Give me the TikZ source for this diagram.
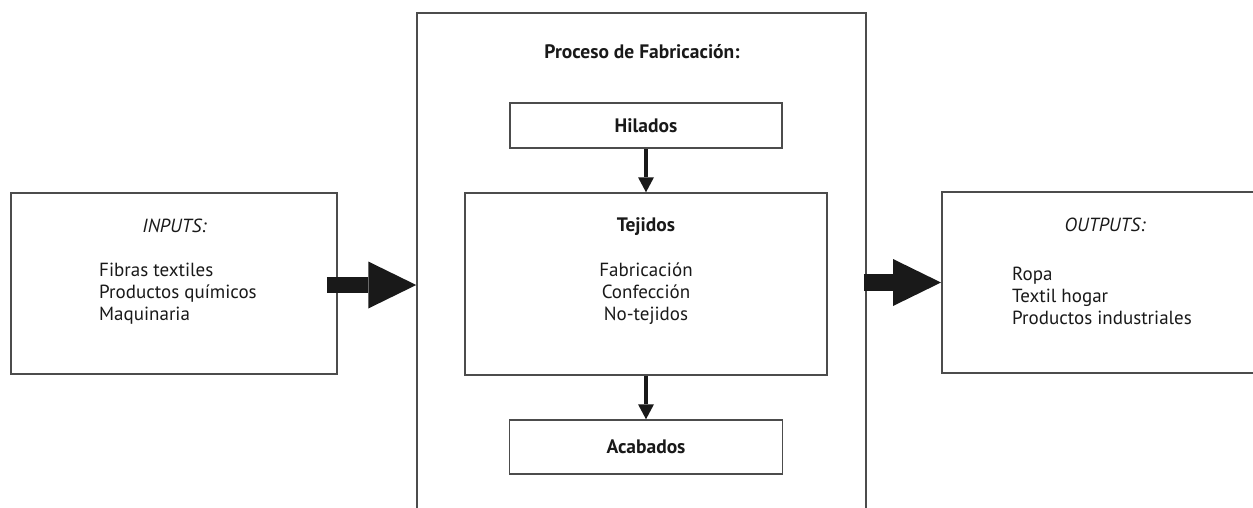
\documentclass[tikz,border=0pt]{standalone}
\usepackage{fontspec}
\setmainfont{PT Sans}
\usetikzlibrary{calc,positioning,arrows.meta}

\begin{document}
\begin{tikzpicture}
[x=1pt, y=-1pt,
every node/.style={inner sep=0pt, text=black!90},
caja/.style={rectangle, draw=black!70, line width=1.5pt},
texto/.style={font=\fontsize{19}{22}\selectfont},
negrita/.style={font=\fontsize{19.5}{22}\selectfont\bfseries},
cursiva/.style={font=\fontsize{19}{22}\selectfont\itshape},
flecha/.style={color=black!90, line width=3.5pt,
-{Triangle[length=15pt,width=16pt,line width=0pt]}},
flechota/.style={color=black!90, line width=16.5pt,
-{Triangle[length=48pt,width=47pt,line width=0pt]}}]

\useasboundingbox (0,0) rectangle (1253,507);

% Draw boxes
\node [caja, minimum width=326pt, minimum height=181pt] (inputs) at (174,283.5) {};
\node [caja, anchor=north, minimum width=449pt, minimum height=530pt] (proceso) at (641.5,12) {};
\node [caja, anchor=west, minimum width=340pt, minimum height=181pt] (outputs) at (941,282.5) {};
\node [caja, negrita, minimum width=272pt, minimum height=45pt] (hilados) at (646,125.5) {Hilados};
\node [caja, minimum width=362pt, minimum height=182pt] (tejidos) at (646,284) {};
\node [caja, negrita, minimum width=273pt, minimum height=54pt] (acabados) at (646,447) {Acabados};

% Draw texts
\node [cursiva, anchor=base] (inputsTitulo) at (174.5,232) {INPUTS:};
\node [texto, anchor=north west, align=left] (inputsLista) at (99,263)
{Fibras textiles\\Productos químicos\\Maquinaria};
\node [negrita, anchor=base] (procesoTitulo) at (642,58) {Proceso de Fabricación:};
\node [negrita, anchor=base] (tejidosTitulo) at (646,231) {Tejidos};
\node [texto, anchor=north, align=center] (tejidosLista) at (646,263)
{Fabricación\\Confección\\No-tejidos};
\node [cursiva, anchor=base] (outputsTitulo) at (1105,231) {OUTPUTS:};
\node [texto, anchor=north west, align=left] (outputsLista) at (1012,267)
{Ropa\\Textil hogar\\Productos industriales};

% Draw arrows
\coordinate (inputsSalida) at ($(inputs.east)+(-11,1.5)$);
\coordinate (procesoSalida) at ($(outputs.west -| proceso.east)+(-3,0)$);
\path [flechota]
(inputsSalida) edge (inputsSalida -| proceso.west)
(procesoSalida) edge (outputs.west);
\path [flecha]
(hilados) edge (tejidos)
(tejidos) edge (acabados);

\end{tikzpicture}
\end{document}
